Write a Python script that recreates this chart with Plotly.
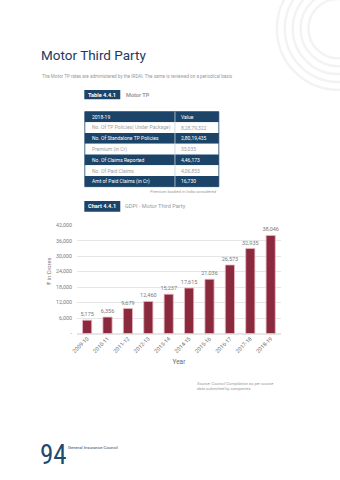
import plotly.graph_objects as go

# ---- data ----
years = ["2009-10", "2010-11", "2011-12", "2012-13", "2013-14",
         "2014-15", "2015-16", "2016-17", "2017-18", "2018-19"]
gdpi = [5175, 6356, 9679, 12460, 15237, 17615, 21036, 26573, 32935, 38046]
ytick_vals = [0, 6000, 12000, 18000, 24000, 30000, 36000, 42000]
ytick_text = ["-", "6,000", "12,000", "18,000", "24,000", "30,000", "36,000", "42,000"]

table_header = ["2018-19", "Value"]
table_labels = ["No. Of TP Policies( Under Package)", "No. Of Standalone TP Policies",
                "Premium (in Cr)", "No. Of Claims Reported", "No. Of Paid Claims",
                "Amt of Paid Claims (in Cr)"]
table_values = ["8,28,79,322", "2,80,19,435", "33,035", "4,46,173", "4,06,853", "16,730"]

W, H = 340, 480
NAVY = "#1b4468"
MAROON = "#8b2a3d"


def px(x):
    return x / W


def py(y):
    return 1 - y / H


def note(text, x, y, size, color, xanchor="left", **kw):
    d = dict(text=text, x=px(x), y=py(y), xref="paper", yref="paper",
             xanchor=xanchor, yanchor="middle", showarrow=False,
             font=dict(size=size, color=color, family="Roboto"))
    d.update(kw)
    return d


fig = go.Figure()
fig.add_trace(go.Bar(
    x=years, y=gdpi,
    marker=dict(color=MAROON, line=dict(color="#e9b9c3", width=0.8)),
    width=0.45,
    text=[f"{v:,}" for v in gdpi], textposition="outside", constraintext="none",
    textfont=dict(size=5.5, color="#7a7a7a", family="Roboto"),
    cliponaxis=False,
))

shapes = []
annotations = []

# decorative arcs top right
for r in [30, 38, 46, 54, 62]:
    shapes.append(dict(type="circle", xref="paper", yref="paper",
                       x0=px(338 - r), x1=px(338 + r), y0=py(26 + r), y1=py(26 - r),
                       line=dict(color="#f3f3f3", width=2.5), layer="below"))

# title & subtitle
annotations.append(note("Motor Third Party", 34, 53, 13.5, "#1e3a5c"))
annotations.append(note("The Motor TP rates are administered by the IRDAI. The same is reviewed on a periodical basis",
                        35.5, 74.5, 4.6, "#999999"))

# table label box
shapes.append(dict(type="rect", xref="paper", yref="paper", x0=px(80.5), x1=px(117), y0=py(97.5), y1=py(88),
                   fillcolor=NAVY, line=dict(width=0)))
annotations.append(note("<b>Table 4.4.1</b>", 98.7, 92.8, 5.6, "white", xanchor="center"))
annotations.append(note("<b>Motor TP</b>", 121, 92.8, 5.6, "#9a9a9a"))

# table
tx0, tx1, tdiv = 81, 217, 172.5
ty0, rh = 110, 10.85
rows = [table_header] + [[a, b] for a, b in zip(table_labels, table_values)]
for i, (lab, val) in enumerate(rows):
    y0 = ty0 + i * rh
    dark = (i % 2 == 0)
    shapes.append(dict(type="rect", xref="paper", yref="paper", x0=px(tx0), x1=px(tx1),
                       y0=py(y0 + rh), y1=py(y0), fillcolor=NAVY if dark else "white",
                       line=dict(width=0), layer="below"))
    col = "white" if dark else "#a0a0a0"
    annotations.append(note(lab, tx0 + 5, y0 + rh / 2, 5.0, col))
    annotations.append(note(val, tdiv + 4, y0 + rh / 2, 5.0, col))
shapes.append(dict(type="rect", xref="paper", yref="paper", x0=px(tx0), x1=px(tx1),
                   y0=py(ty0 + 7 * rh), y1=py(ty0), line=dict(color=NAVY, width=0.8), layer="below"))
shapes.append(dict(type="line", xref="paper", yref="paper", x0=px(tdiv), x1=px(tdiv),
                   y0=py(ty0 + 7 * rh), y1=py(ty0), line=dict(color="#c8d3de", width=0.8), layer="below"))
annotations.append(note("<i>Premium booked in India considered</i>", 217, 190.5, 4.2, "#9a9a9a", xanchor="right"))

# chart label box
shapes.append(dict(type="rect", xref="paper", yref="paper", x0=px(80.5), x1=px(117), y0=py(211.5), y1=py(200.5),
                   fillcolor=NAVY, line=dict(width=0)))
annotations.append(note("<b>Chart 4.4.1</b>", 98.7, 206, 5.6, "white", xanchor="center"))
annotations.append(note("GDPI - Motor Third Party", 120, 206, 5.6, "#9a9a9a"))

# y axis title
annotations.append(note("₹ in Crores", 44, 272, 5.8, "#7a7a7a", xanchor="center", textangle=-90))

# source
annotations.append(note("<i>Source: Council Compilation as per source<br>data submitted by companies</i>",
                        193, 388, 4.2, "#9a9a9a", align="left"))

# footer
foot = note("94", 33, 458, 27, "#1e4a72")
foot["font"]["family"] = "Roboto Condensed, Roboto"
annotations.append(foot)
annotations.append(note("General Insurance Council", 61.5, 450.5, 4.3, "#3a4f66"))

fig.update_layout(
    width=W, height=H, margin=dict(l=0, r=0, t=0, b=0),
    paper_bgcolor="white", plot_bgcolor="white",
    showlegend=False, shapes=shapes, annotations=annotations,
    xaxis=dict(type="category", domain=[px(73), px(280)], tickangle=-45, showgrid=False, showline=False,
               ticks="", tickfont=dict(size=5.5, color="#7a7a7a", family="Roboto"),
               title=dict(text="Year", font=dict(size=6.5, color="#6a6a6a", family="Roboto"), standoff=6)),
    yaxis=dict(domain=[py(334.7), py(225)], range=[0, 42000], tickvals=ytick_vals, ticktext=ytick_text,
               showgrid=True, gridcolor="#e6e6e6", gridwidth=0.8, zeroline=True, zerolinecolor="#e6e6e6",
               ticks="", tickfont=dict(size=5.3, color="#7a7a7a", family="Roboto"), ticklabelstandoff=4),
    bargap=0.55,
)

fig.write_html("out.html")
